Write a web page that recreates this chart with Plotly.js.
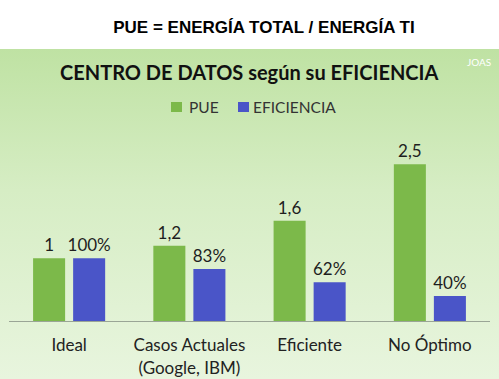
<!DOCTYPE html>
<html>
<head>
<meta charset="utf-8">
<script src="https://cdn.plot.ly/plotly-3.0.1.min.js"></script>
<style>
html,body{margin:0;padding:0;background:#fff;}
#chart{width:499px;height:379px;background:linear-gradient(to bottom,#ffffff 0px,#ffffff 49px,#bfe2a3 49px,#d6edc4 190px,#e8f5de 379px);}
</style>
</head>
<body>
<div id="chart"></div>
<script>
const categories = ["Ideal", "Casos Actuales<br>(Google, IBM)", "Eficiente", "No Óptimo"];
const pueValues = [1, 1.2, 1.6, 2.5];
const eficienciaPct = [100, 83, 62, 40];
const seriesNames = ["PUE", "EFICIENCIA"];
const seriesColors = ["#7cb94a", "#4a55c8"];
const mainTitle = "PUE = ENERGÍA TOTAL / ENERGÍA TI";
const chartTitle = "CENTRO DE DATOS según su EFICIENCIA";
const watermark = "JOAS";

const FONT = "Lato, 'Open Sans', sans-serif";

// plot area geometry (pixels) used to place legend/title decorations
const W = 499, H = 379;
const M = {l: 9, r: 9, t: 140, b: 58};
const plotW = W - M.l - M.r, plotH = H - M.t - M.b;
const px = x => (x - M.l) / plotW;
const py = y => (H - M.b - y) / plotH;

const traces = [
  {
    type: "bar",
    name: seriesNames[0],
    x: categories,
    y: pueValues,
    text: pueValues.map(v => String(v).replace(".", ",")),
    textposition: "outside",
    constraintext: "none",
    cliponaxis: false,
    textfont: {family: FONT, size: 17, color: "#1e1e1e"},
    marker: {color: seriesColors[0]},
    hoverinfo: "none"
  },
  {
    type: "bar",
    name: seriesNames[1],
    x: categories,
    y: eficienciaPct.map(p => p / 100),
    text: eficienciaPct.map(p => p + "%"),
    textposition: "outside",
    constraintext: "none",
    cliponaxis: false,
    textfont: {family: FONT, size: 17, color: "#1e1e1e"},
    marker: {color: seriesColors[1]},
    hoverinfo: "none"
  }
];

// manual legend (squares + labels)
const legendItems = [
  {sq: [171, 182], tx: 187},
  {sq: [238, 249], tx: 251}
];
const legendShapes = legendItems.map((it, i) => ({
  type: "rect", xref: "paper", yref: "paper",
  x0: px(it.sq[0]), x1: px(it.sq[1]), y0: py(112), y1: py(102),
  fillcolor: seriesColors[i], line: {width: 0}
}));
const legendLabels = legendItems.map((it, i) => ({
  text: seriesNames[i], xref: "paper", yref: "paper",
  x: px(it.tx), y: py(107), xanchor: "left", yanchor: "middle",
  showarrow: false, font: {family: FONT, size: 15.5, color: "#333"}
}));

const layout = {
  width: W,
  height: H,
  margin: {l: M.l, r: M.r, t: M.t, b: M.b, pad: 0},
  paper_bgcolor: "rgba(0,0,0,0)",
  plot_bgcolor: "rgba(0,0,0,0)",
  font: {family: FONT, color: "#1e1e1e"},
  barmode: "group",
  bargap: 0.334,
  bargroupgap: 0.2,
  showlegend: false,
  title: {
    text: "<b>" + mainTitle + "</b>",
    font: {family: "'Liberation Sans', Arial, sans-serif", size: 17, color: "#000"},
    x: 0.529, xanchor: "center",
    xref: "container",
    y: 1 - 27 / 379, yanchor: "middle",
    yref: "container"
  },
  xaxis: {
    type: "category",
    showline: true,
    linecolor: "#9aa596",
    linewidth: 1,
    ticks: "",
    ticklabelstandoff: 9,
    tickfont: {family: FONT, size: 17, color: "#222"},
    fixedrange: true
  },
  yaxis: {
    range: [0, 2.887],
    showgrid: false,
    zeroline: false,
    showticklabels: false,
    showline: false,
    fixedrange: true
  },
  shapes: legendShapes,
  annotations: [
    {
      text: "<b>" + chartTitle + "</b>",
      xref: "paper", yref: "paper",
      x: px(249), y: py(72),
      xanchor: "center", yanchor: "middle",
      showarrow: false,
      font: {family: FONT, size: 20, color: "#111"}
    },
    {
      text: watermark,
      xref: "paper", yref: "paper",
      x: px(479), y: py(62),
      xanchor: "center", yanchor: "middle",
      showarrow: false,
      font: {family: FONT, size: 10, color: "#ffffff"}
    }
  ].concat(legendLabels)
};

Plotly.newPlot("chart", traces, layout, {displayModeBar: false, staticPlot: true});
</script>
</body>
</html>
